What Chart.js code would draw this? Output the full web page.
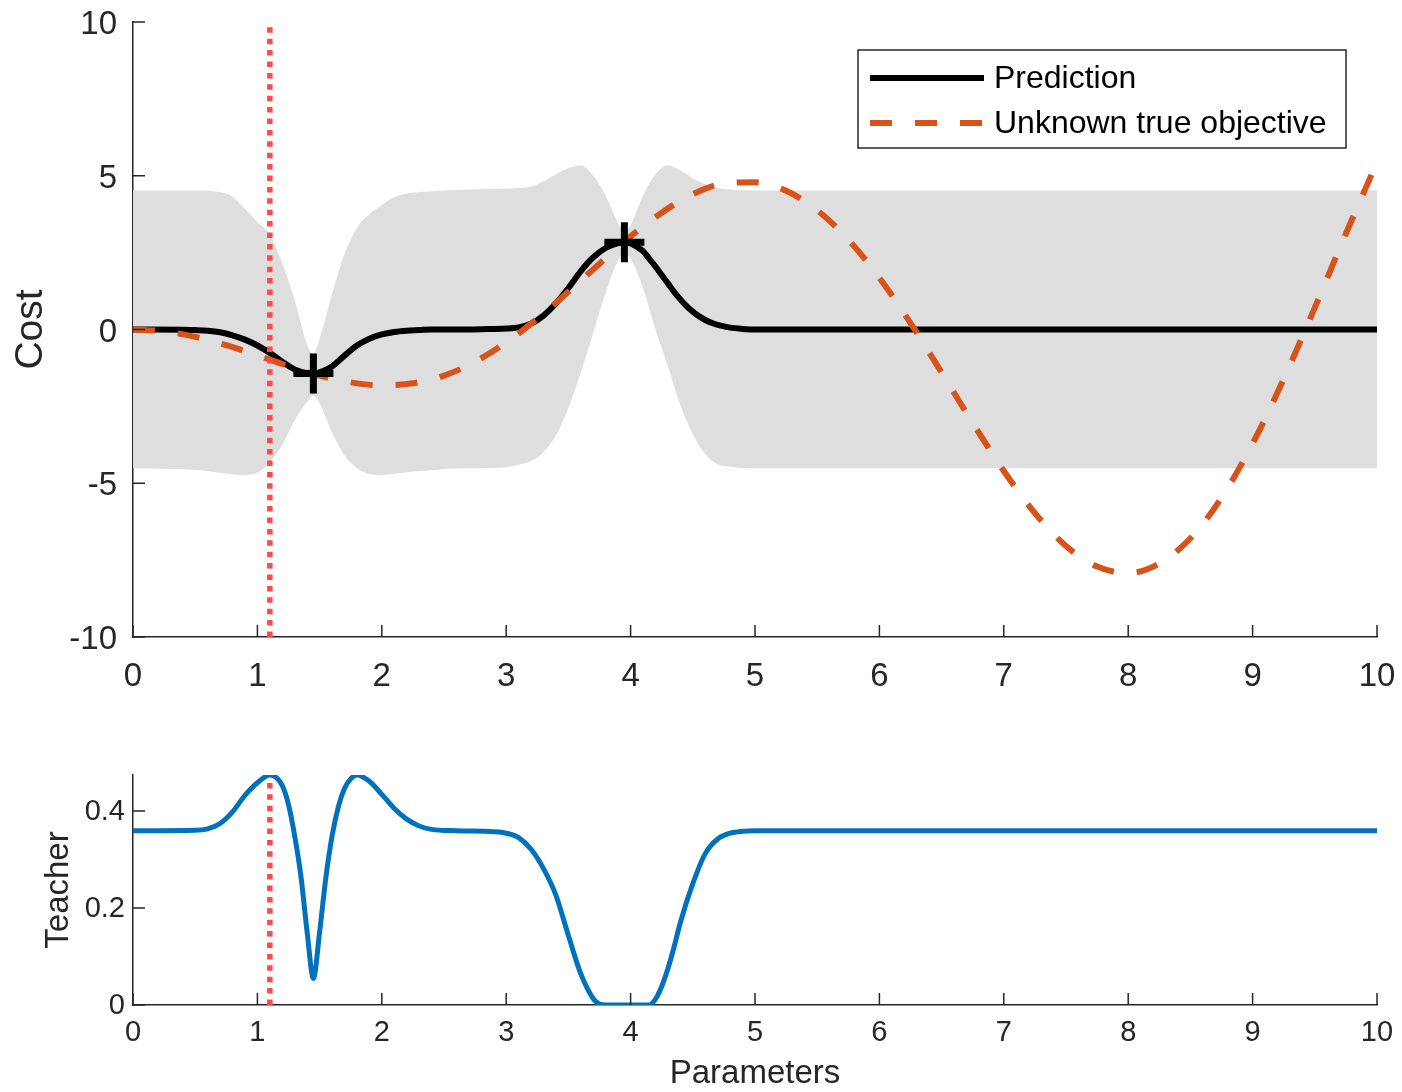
<!DOCTYPE html>
<html>
<head>
<meta charset="utf-8">
<title>Cost prediction and teacher signal</title>
<script src="https://cdn.jsdelivr.net/npm/chart.js@4.4.1/dist/chart.umd.min.js"></script>
<style>
  html, body { margin: 0; padding: 0; background: #ffffff; overflow: hidden; }
  #wrap { position: relative; width: 1402px; height: 1092px; overflow: hidden; }
  canvas { position: absolute; left: 0; }
  /* the cost panel reserves 27px around its plot for the large sample markers */
  #costCanvas { top: -5px; }
  #teacherCanvas { top: 720px; }
</style>
</head>
<body>
<div id="wrap">
  <canvas id="costCanvas" width="1404" height="725"></canvas>
  <canvas id="teacherCanvas" width="1402" height="374"></canvas>
</div>
<script>
// ---------- data ----------
// Unknown true objective (dashed curve)
const trueX = [0, 0.25, 0.5, 0.75, 1, 1.25, 1.5, 1.75, 2, 2.25, 2.5, 2.75, 3, 3.25, 3.5, 3.75, 4, 4.25, 4.5, 4.75,
               5, 5.25, 5.5, 5.75, 6, 6.25, 6.5, 6.75, 7, 7.25, 7.5, 7.75, 8, 8.25, 8.5, 8.75, 9, 9.25, 9.5, 9.75, 10];
const trueCost = [0, -0.06, -0.24, -0.51, -0.84, -1.19, -1.50, -1.72, -1.82, -1.75, -1.50, -1.05, -0.42, 0.35, 1.23, 2.14,
                  3.03, 3.80, 4.40, 4.75, 4.79, 4.51, 3.88, 2.92, 1.68, 0.21, -1.40, -3.04, -4.60, -5.97, -7.04, -7.71,
                  -7.92, -7.61, -6.79, -5.47, -3.71, -1.61, 0.71, 3.12, 5.44];

// Prediction (posterior mean)
const predX = [0, 0.4, 0.5, 0.6, 0.7, 0.8, 0.9, 1.0, 1.1, 1.2, 1.3, 1.4, 1.45, 1.5, 1.6, 1.7, 1.8, 1.9, 2.0, 2.1,
               2.2, 2.3, 2.4, 2.6, 2.8, 3.0, 3.1, 3.2, 3.3, 3.4, 3.5, 3.6, 3.7, 3.8, 3.9, 3.95, 4.0, 4.05, 4.1, 4.15,
               4.2, 4.25, 4.3, 4.35, 4.4, 4.45, 4.5, 4.55, 4.6, 4.65, 4.7, 4.8, 4.9, 5.0, 10];
const predCost = [0, -0.01, -0.02, -0.04, -0.09, -0.19, -0.33, -0.52, -0.76, -1.05, -1.30, -1.42, -1.43, -1.39, -1.20, -0.85, -0.52, -0.30, -0.16, -0.08,
                  -0.04, -0.02, 0, 0, 0.01, 0.03, 0.07, 0.19, 0.45, 0.85, 1.35, 1.90, 2.35, 2.65, 2.81, 2.84, 2.80, 2.69, 2.55, 2.30,
                  2.05, 1.77, 1.50, 1.22, 0.98, 0.76, 0.58, 0.43, 0.31, 0.22, 0.15, 0.06, 0.02, 0, 0];

// Uncertainty band around the prediction
const bandX = [0, 0.5, 0.7, 0.8, 0.9, 1.0, 1.1, 1.2, 1.3, 1.4, 1.45, 1.5, 1.6, 1.7, 1.8, 1.9, 2.0, 2.1, 2.2, 2.4,
               2.6, 2.8, 3.0, 3.1, 3.2, 3.3, 3.4, 3.5, 3.6, 3.7, 3.8, 3.9, 3.95, 4.0, 4.1, 4.2, 4.3, 4.4, 4.5, 4.6,
               4.7, 4.8, 4.9, 5.0, 10];
const bandUpper = [4.52, 4.52, 4.46, 4.32, 3.92, 3.50, 3.08, 2.15, 0.95, -0.50, -0.78, -0.30, 1.15, 2.45, 3.30, 3.75, 4.05, 4.30, 4.42, 4.50,
                   4.54, 4.56, 4.58, 4.60, 4.65, 4.82, 5.05, 5.24, 5.33, 5.00, 4.35, 3.45, 3.15, 3.40, 4.36, 5.05, 5.33, 5.17, 4.92, 4.72,
                   4.60, 4.55, 4.53, 4.52, 4.52];
const bandLower = [-4.51, -4.56, -4.66, -4.71, -4.73, -4.66, -4.33, -3.75, -2.95, -2.35, -2.15, -2.40, -3.35, -4.10, -4.50, -4.70, -4.73, -4.69, -4.64, -4.58,
                   -4.52, -4.51, -4.48, -4.40, -4.28, -3.98, -3.45, -2.55, -1.40, -0.10, 1.20, 2.25, 2.45, 2.30, 1.35, 0.00, -1.20, -2.46, -3.40, -4.05,
                   -4.38, -4.46, -4.50, -4.51, -4.51];

// Evaluated samples (+ markers)
const sampleX = [1.45, 3.95];
const sampleCost = [-1.43, 2.84];

// Next parameter proposed by the teacher (dotted line)
const nextX = 1.1;
const costRange = [-10, 10];

// Teacher signal
const teacherX = [0, 0.5, 0.6, 0.7, 0.8, 0.9, 1.0, 1.1, 1.2, 1.25, 1.3, 1.35, 1.4, 1.45, 1.5, 1.55, 1.6, 1.65, 1.7, 1.75,
                  1.8, 1.9, 2.0, 2.1, 2.2, 2.3, 2.4, 2.6, 2.9, 3.0, 3.1, 3.2, 3.3, 3.4, 3.5, 3.6, 3.7, 3.75, 3.8, 4.15,
                  4.2, 4.25, 4.3, 4.35, 4.4, 4.5, 4.6, 4.7, 4.8, 4.9, 5.0, 10];
const teacherVal = [0.359, 0.360, 0.363, 0.374, 0.398, 0.432, 0.458, 0.474, 0.452, 0.413, 0.348, 0.265, 0.150, 0.055, 0.150, 0.262, 0.348, 0.408, 0.446, 0.466,
                    0.474, 0.461, 0.434, 0.405, 0.383, 0.369, 0.362, 0.359, 0.357, 0.354, 0.345, 0.321, 0.281, 0.226, 0.143, 0.064, 0.013, 0.002, 0, 0,
                    0.012, 0.038, 0.075, 0.120, 0.170, 0.250, 0.312, 0.342, 0.354, 0.358, 0.359, 0.359];
const teacherMax = 0.474;

// ---------- styling ----------
const FONT = "'Liberation Sans', Arial, Helvetica, sans-serif";
const AXIS = '#262626';
const ORANGE = '#D95319';
const BLUE = '#0072BD';
const DOT_RED = '#ff4a4a';
const BAND = '#dedede';
const TICK_LEN = 12;

const pts = (xs, ys) => xs.map((x, i) => ({ x: x, y: ys[i] }));

// Fix axis box sizes so both panels share the same plot area edges
function fixBox(size) {
  return function (scale) {
    if (scale.isHorizontal()) scale.height = size; else scale.width = size;
    scale.paddingLeft = 0; scale.paddingRight = 0;
    scale.paddingTop = 0; scale.paddingBottom = 0;
  };
}

// Tick marks pointing into the plot area
const inwardTicks = {
  id: 'inwardTicks',
  afterDraw(chart) {
    const { ctx, chartArea: a, scales } = chart;
    ctx.save();
    ctx.strokeStyle = AXIS;
    ctx.lineWidth = 1.5;
    ctx.beginPath();
    scales.x.ticks.forEach(t => {
      const p = scales.x.getPixelForValue(t.value);
      ctx.moveTo(p, a.bottom); ctx.lineTo(p, a.bottom - TICK_LEN);
    });
    scales.y.ticks.forEach(t => {
      const p = scales.y.getPixelForValue(t.value);
      ctx.moveTo(a.left, p); ctx.lineTo(a.left + TICK_LEN, p);
    });
    ctx.stroke();
    ctx.restore();
  }
};

// Boxed legend in the upper right of the plot area
const boxLegend = {
  id: 'boxLegend',
  afterDraw(chart, args, opts) {
    const { ctx, chartArea: a } = chart;
    const w = 488, h = 98;
    const left = a.right - 31 - w, top = a.top + 28;
    ctx.save();
    ctx.fillStyle = '#ffffff';
    ctx.fillRect(left, top, w, h);
    ctx.strokeStyle = AXIS;
    ctx.lineWidth = 1.5;
    ctx.strokeRect(left, top, w, h);
    const rows = chart.data.datasets.filter(d => opts.labels.includes(d.label))
      .sort((p, q) => opts.labels.indexOf(p.label) - opts.labels.indexOf(q.label));
    ctx.font = '32px ' + FONT;
    ctx.textBaseline = 'middle';
    ctx.textAlign = 'left';
    rows.forEach((d, i) => {
      const y = top + 28 + i * 45;
      ctx.beginPath();
      ctx.strokeStyle = d.borderColor;
      ctx.lineWidth = d.borderWidth;
      ctx.setLineDash(d.borderDash || []);
      ctx.moveTo(left + 12, y);
      ctx.lineTo(left + 126, y);
      ctx.stroke();
      ctx.setLineDash([]);
      ctx.fillStyle = '#000000';
      ctx.fillText(d.label, left + 136, y + 1);
    });
    ctx.restore();
  }
};

const lineBase = { pointRadius: 0, fill: false, cubicInterpolationMode: 'monotone' };

// ---------- top panel: cost ----------
new Chart(document.getElementById('costCanvas'), {
  type: 'line',
  data: {
    datasets: [
      Object.assign({}, lineBase, { label: 'band upper', data: pts(bandX, bandUpper), borderColor: 'rgba(0,0,0,0)', borderWidth: 0,
        backgroundColor: BAND, fill: '+1', order: 6 }),
      Object.assign({}, lineBase, { label: 'band lower', data: pts(bandX, bandLower), borderColor: 'rgba(0,0,0,0)', borderWidth: 0, order: 6 }),
      Object.assign({}, lineBase, { label: 'Prediction', data: pts(predX, predCost), borderColor: '#000000', borderWidth: 6, order: 4 }),
      Object.assign({}, lineBase, { label: 'Unknown true objective', data: pts(trueX, trueCost), borderColor: ORANGE, borderWidth: 6,
        borderDash: [22, 23], order: 3 }),
      { label: 'Samples', data: pts(sampleX, sampleCost), showLine: false, pointStyle: 'cross', pointRadius: 20,
        pointBorderWidth: 7, pointBorderColor: '#000000', borderColor: '#000000', order: 2 },
      Object.assign({}, lineBase, { label: 'Next', data: pts([nextX, nextX], costRange), borderColor: DOT_RED, borderWidth: 5.5,
        borderDash: [5.5, 5.9], cubicInterpolationMode: 'default', tension: 0, order: 1 })
    ]
  },
  options: {
    responsive: false,
    devicePixelRatio: 1,
    animation: false,
    events: [],
    layout: { padding: { left: 0, right: 27, top: 27, bottom: 0 } },
    plugins: {
      legend: { display: false },
      tooltip: { enabled: false },
      boxLegend: { labels: ['Prediction', 'Unknown true objective'] }
    },
    scales: {
      x: {
        type: 'linear', min: 0, max: 10,
        ticks: { stepSize: 1, padding: 20, maxRotation: 0, autoSkip: false, includeBounds: false,
                 color: AXIS, font: { family: FONT, size: 33 } },
        grid: { display: false, drawTicks: false },
        border: { display: true, color: AXIS, width: 1.5 },
        afterFit: fixBox(83)
      },
      y: {
        type: 'linear', min: -10, max: 10,
        ticks: { stepSize: 5, padding: 16, labelOffset: 3, includeBounds: false,
                 color: AXIS, font: { family: FONT, size: 33 } },
        grid: { display: false, drawTicks: false },
        border: { display: true, color: AXIS, width: 1.5 },
        title: { display: true, text: 'Cost', color: AXIS, font: { family: FONT, size: 39 }, padding: { top: 7.6, bottom: 0 } },
        afterFit: fixBox(133)
      }
    }
  },
  plugins: [inwardTicks, boxLegend]
});

// ---------- bottom panel: teacher ----------
new Chart(document.getElementById('teacherCanvas'), {
  type: 'line',
  data: {
    datasets: [
      Object.assign({}, lineBase, { label: 'Teacher', data: pts(teacherX, teacherVal), borderColor: BLUE, borderWidth: 5, order: 1 }),
      Object.assign({}, lineBase, { label: 'Next', data: pts([nextX, nextX], [0, teacherMax]), borderColor: DOT_RED, borderWidth: 5.5,
        borderDash: [5.5, 5.9], cubicInterpolationMode: 'default', tension: 0, order: 2 })
    ]
  },
  options: {
    responsive: false,
    devicePixelRatio: 1,
    animation: false,
    events: [],
    layout: { padding: { left: 0, right: 25, top: 55, bottom: 0 } },
    plugins: { legend: { display: false }, tooltip: { enabled: false } },
    scales: {
      x: {
        type: 'linear', min: 0, max: 10,
        ticks: { stepSize: 1, padding: 11, maxRotation: 0, autoSkip: false, includeBounds: false,
                 color: AXIS, font: { family: FONT, size: 29 } },
        grid: { display: false, drawTicks: false },
        border: { display: true, color: AXIS, width: 1.5 },
        title: { display: true, text: 'Parameters', color: AXIS, font: { family: FONT, size: 33 }, padding: { top: 0, bottom: 0 } },
        afterFit: fixBox(89)
      },
      y: {
        type: 'linear', min: 0, max: teacherMax,
        ticks: { stepSize: 0.2, padding: 8, labelOffset: 1, includeBounds: false,
                 color: AXIS, font: { family: FONT, size: 29 } },
        grid: { display: false, drawTicks: false },
        border: { display: true, color: AXIS, width: 1.5 },
        title: { display: true, text: 'Teacher', color: AXIS, font: { family: FONT, size: 33 }, padding: { top: 39, bottom: 0 } },
        afterFit: fixBox(133)
      }
    }
  },
  plugins: [inwardTicks]
});
</script>
</body>
</html>
